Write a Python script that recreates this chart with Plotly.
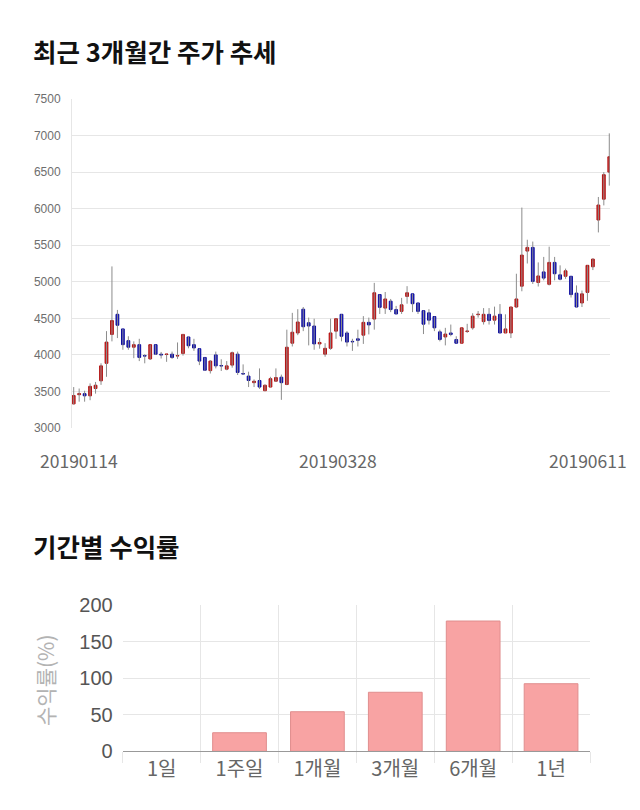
import plotly.graph_objects as go

W, H = 640, 810

# ---------------- data ----------------
opens = [3330, 3455, 3470, 3440, 3540, 3645, 3885, 4280, 4555, 4355,
         4195, 4105, 4140, 3990, 3945, 4140, 4010, 4005, 4010, 3985,
         4020, 4245, 4140, 4085, 3965, 3785, 4000, 3855, 3805, 3860,
         4010, 3745, 3710, 3620, 3650, 3510, 3560, 3640, 3695, 3595,
         4160, 4300, 4625, 4440, 4395, 4150, 4010, 4090, 4325, 4555,
         4300, 4185, 4220, 4270, 4445, 4490, 4825, 4640, 4735, 4620,
         4595, 4800, 4835, 4710, 4605, 4575, 4525, 4315, 4245, 4300,
         4210, 4160, 4320, 4370, 4550, 4455, 4555, 4475, 4555, 4300,
         4300, 4655, 4940, 5420, 5470, 4990, 5135, 4965, 5265, 5095,
         5075, 5075, 4845, 4710, 4855, 5205, 5845, 6130, 6500]
highs = [3560, 3540, 3510, 3610, 3630, 3885, 4325, 5210, 4615, 4355,
         4255, 4185, 4220, 4010, 4140, 4140, 4040, 4010, 4045, 4170,
         4285, 4250, 4220, 4085, 3965, 3930, 4045, 3940, 3915, 4045,
         4045, 3870, 3770, 3665, 3815, 3595, 3700, 3815, 3730, 4345,
         4575, 4625, 4655, 4510, 4495, 4230, 4160, 4495, 4500, 4555,
         4325, 4220, 4345, 4530, 4510, 4985, 4825, 4860, 4765, 4670,
         4780, 4940, 4835, 4710, 4605, 4625, 4525, 4345, 4370, 4415,
         4255, 4370, 4425, 4570, 4600, 4640, 4640, 4660, 4695, 4555,
         4655, 5110, 6015, 5575, 5550, 5265, 5340, 5480, 5340, 5225,
         5180, 5075, 4950, 4880, 5225, 5320, 6160, 6500, 7030]
lows = [3320, 3360, 3360, 3380, 3470, 3590, 3700, 4185, 4230, 4070,
        4070, 3955, 3915, 3885, 3930, 4000, 3950, 3905, 3945, 3945,
        3990, 4090, 4055, 3860, 3780, 3745, 3815, 3780, 3790, 3825,
        3725, 3725, 3560, 3560, 3535, 3505, 3560, 3630, 3385, 3585,
        4115, 4270, 4325, 4130, 4070, 4085, 3975, 4070, 4220, 4185,
        4115, 4055, 4115, 4150, 4280, 4345, 4560, 4560, 4585, 4560,
        4560, 4700, 4585, 4560, 4285, 4415, 4325, 4185, 4130, 4255,
        4160, 4160, 4300, 4345, 4510, 4415, 4415, 4415, 4300, 4300,
        4230, 4640, 4870, 5250, 4970, 4935, 5020, 4950, 5020, 5020,
        5040, 4785, 4650, 4655, 4740, 5160, 5675, 6045, 6315]
closes = [3445, 3470, 3440, 3570, 3585, 3850, 4175, 4470, 4405, 4140,
          4105, 4140, 3965, 3985, 4140, 4010, 4000, 4010, 3965, 3990,
          4280, 4125, 4095, 3915, 3790, 3915, 3850, 3850, 3850, 4030,
          3760, 3740, 3650, 3640, 3560, 3585, 3675, 3690, 3620, 4105,
          4310, 4450, 4385, 4395, 4150, 4170, 4090, 4300, 4495, 4255,
          4175, 4180, 4200, 4445, 4410, 4850, 4650, 4765, 4620, 4560,
          4685, 4850, 4700, 4595, 4420, 4475, 4370, 4210, 4285, 4280,
          4160, 4370, 4325, 4530, 4555, 4555, 4470, 4530, 4300, 4355,
          4655, 4765, 5365, 5470, 5005, 5080, 5050, 5265, 5110, 5035,
          5150, 4825, 4655, 4835, 5225, 5310, 6050, 6465, 6710]
date_labels = ["20190114", "20190328", "20190611"]
price_ticks = [3000, 3500, 4000, 4500, 5000, 5500, 6000, 6500, 7000, 7500]

periods = ["1일", "1주일", "1개월", "3개월", "6개월", "1년"]
returns = [0, 25.4, 54.1, 80.7, 178.1, 92.4]
return_ticks = [0, 50, 100, 150, 200]

# ---------------- helpers ----------------
def px_x(p):
    return p / W

def px_y(p):
    return 1 - p / H

n = len(opens)
xs = list(range(n))

# wick segments
wx, wy = [], []
for i in xs:
    wx += [i, i, None]
    wy += [lows[i], highs[i], None]

body_hi = [max(o, c) for o, c in zip(opens, closes)]
body_lo = [min(o, c) for o, c in zip(opens, closes)]

fig = go.Figure()

fig.add_trace(go.Scatter(
    x=wx, y=wy, mode="lines",
    line=dict(color="#8c8c8c", width=1),
    hoverinfo="skip", showlegend=False,
    xaxis="x", yaxis="y",
))

fig.add_trace(go.Candlestick(
    x=xs, open=opens, high=body_hi, low=body_lo, close=closes,
    increasing=dict(fillcolor="#d81c1c", line=dict(color="#b01212", width=1)),
    decreasing=dict(fillcolor="#1414c8", line=dict(color="#0c0c9c", width=1)),
    whiskerwidth=0, showlegend=False,
    xaxis="x", yaxis="y",
))

fig.add_trace(go.Bar(
    x=periods, y=returns,
    marker=dict(color="#f8a3a3",
                line=dict(color="#e08e8e",
                          width=[1 if v != 0 else 0 for v in returns])),
    width=0.69, showlegend=False,
    xaxis="x2", yaxis="y2",
))

grid = "#e6e6e6"

fig.update_layout(
    width=W, height=H,
    autosize=False,
    margin=dict(l=0, r=0, t=0, b=0, pad=0, autoexpand=False),
    paper_bgcolor="white", plot_bgcolor="white",
    boxgap=0.27,
    font=dict(family="Liberation Sans, Arial, sans-serif", color="#666"),
    xaxis=dict(
        domain=[px_x(72), px_x(610)],
        range=[-0.31, 98.13],
        showgrid=False, zeroline=False, showticklabels=False, ticks="",
        rangeslider=dict(visible=False),
        automargin=False,
        anchor="y",
    ),
    yaxis=dict(
        domain=[px_y(428), px_y(99)],
        range=[3000, 7500],
        tickvals=price_ticks,
        showgrid=True, gridcolor=grid, gridwidth=1,
        zeroline=False,
        showline=True, linecolor=grid, linewidth=1,
        tickfont=dict(size=12, color="#6e6e6e"),
        ticks="", ticklabelstandoff=8,
        automargin=False,
        anchor="x",
    ),
    xaxis2=dict(
        domain=[px_x(122.7), px_x(590)],
        type="category",
        tickson="boundaries",
        showgrid=True, gridcolor=grid,
        ticks="outside", ticklen=11, tickcolor=grid,
        showline=True, linecolor="#999", linewidth=1,
        tickfont=dict(size=20, color="#666", family="Noto Sans CJK KR"),
        automargin=False,
        anchor="y2",
    ),
    yaxis2=dict(
        domain=[px_y(751.3), px_y(605)],
        range=[0, 200],
        tickvals=return_ticks,
        showgrid=True, gridcolor=grid,
        zeroline=False,
        tickfont=dict(size=20, color="#555"),
        ticks="", ticklabelstandoff=9,
        automargin=False,
        anchor="x2",
    ),
    bargap=0.31,
)

annotations = [
    dict(text="<b>최근 3개월간 주가 추세</b>", x=px_x(31), y=px_y(50),
         xanchor="left", yanchor="middle",
         font=dict(size=25.5, color="#111", family="Noto Sans CJK KR")),
    dict(text="<b>기간별 수익률</b>", x=px_x(31), y=px_y(545),
         xanchor="left", yanchor="middle",
         font=dict(size=25.5, color="#111", family="Noto Sans CJK KR")),
    dict(text="수익률(%)", x=px_x(45), y=px_y(680), textangle=-90,
         xanchor="center", yanchor="middle",
         font=dict(size=21, color="#b3b3b3", family="Noto Sans CJK KR")),
]
label_pos = [(79, "center"), (338, "center"), (629, "right")]
for lab, (px, anc) in zip(date_labels, label_pos):
    annotations.append(dict(
        text=lab, x=px_x(px), y=px_y(460), xanchor=anc, yanchor="middle",
        font=dict(size=17.5, color="#666", family="Noto Sans CJK KR")))
for a in annotations:
    a.update(xref="paper", yref="paper", showarrow=False)
fig.update_layout(annotations=annotations)

fig.write_html("out.html")
